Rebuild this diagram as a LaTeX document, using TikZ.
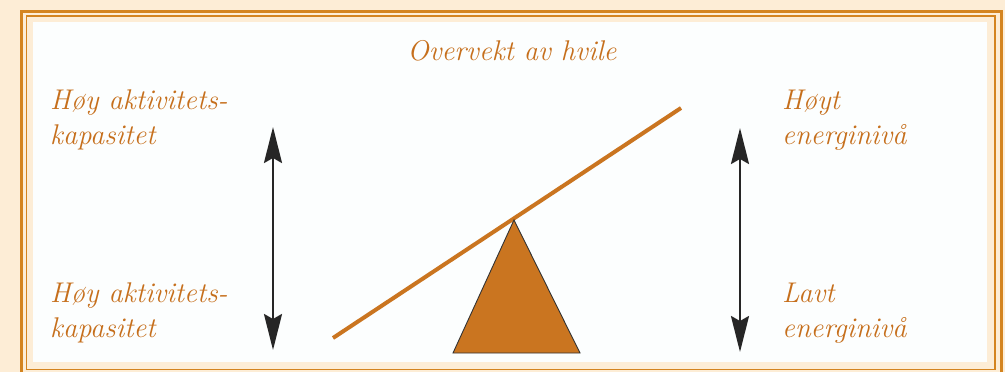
\documentclass[tikz,border=0pt]{standalone}
\usepackage{tikz}
\usetikzlibrary{positioning, arrows.meta}

\definecolor{cream}{HTML}{FDEDD6}
\definecolor{framecol}{HTML}{D4841F}
\definecolor{txtcol}{HTML}{C66F1C}
\definecolor{wedgecol}{HTML}{CA7520}
\definecolor{panelcol}{HTML}{FCFEFE}

\begin{document}
\begin{tikzpicture}[
      x=1pt, y=-1pt,
      label_txt/.style={anchor=north west, inner sep=0pt, align=left, text=txtcol,
        font=\fontsize{28.5}{35}\selectfont\itshape},
      arrow_path/.style={{Stealth[length=36pt, width=18pt, inset=5pt]}-{Stealth[length=36pt, width=18pt, inset=5pt]},
        line width=2.4pt, draw={black!85}},
      beam_line/.style={draw=wedgecol, line width=4pt},
      wedge/.style={fill=wedgecol, draw=black!80, line width=0.9pt}
    ]
      % frame and panel
      \useasboundingbox (0,0) rectangle (1005,372);
      \fill[cream] (0,0) rectangle (1005,372);
      \draw[framecol, line width=3pt] (21.5,11.5) rectangle (1001.5,374);
      \draw[framecol, line width=1.8pt] (26.5,16) rectangle (995,369.5);
      \fill[panelcol] (33,22) rectangle (987,362);

      % texts
      \node[label_txt, anchor=north] (title) at (512,40) {Overvekt av hvile};
      \node[label_txt] (lefttop) at (50,90) {Høy aktivitets-\\kapasitet};
      \node[label_txt] (leftbot) at (50,283) {Høy aktivitets-\\kapasitet};
      \node[label_txt] (righttop) at (782,90) {Høyt\\energinivå};
      \node[label_txt] (rightbot) at (782,283) {Lavt\\energinivå};

      % arrows
      \coordinate (la_top) at (273,127);
      \coordinate (la_bot) at (273,350);
      \coordinate (ra_top) at (740,128);
      \coordinate (ra_bot) at (740,352);
      \draw[arrow_path] (la_top) -- (la_bot);
      \draw[arrow_path] (ra_top) -- (ra_bot);

      % seesaw
      \coordinate (apex) at (514,220);
      \coordinate (base_l) at (453,353);
      \coordinate (base_r) at (580,353);
      \coordinate (beam_l) at (333,338);
      \coordinate (beam_r) at (681,108);
      \draw[beam_line] (beam_l) -- (beam_r);
      \draw[wedge] (apex) -- (base_l) -- (base_r) -- cycle;
    \end{tikzpicture}
\end{document}
